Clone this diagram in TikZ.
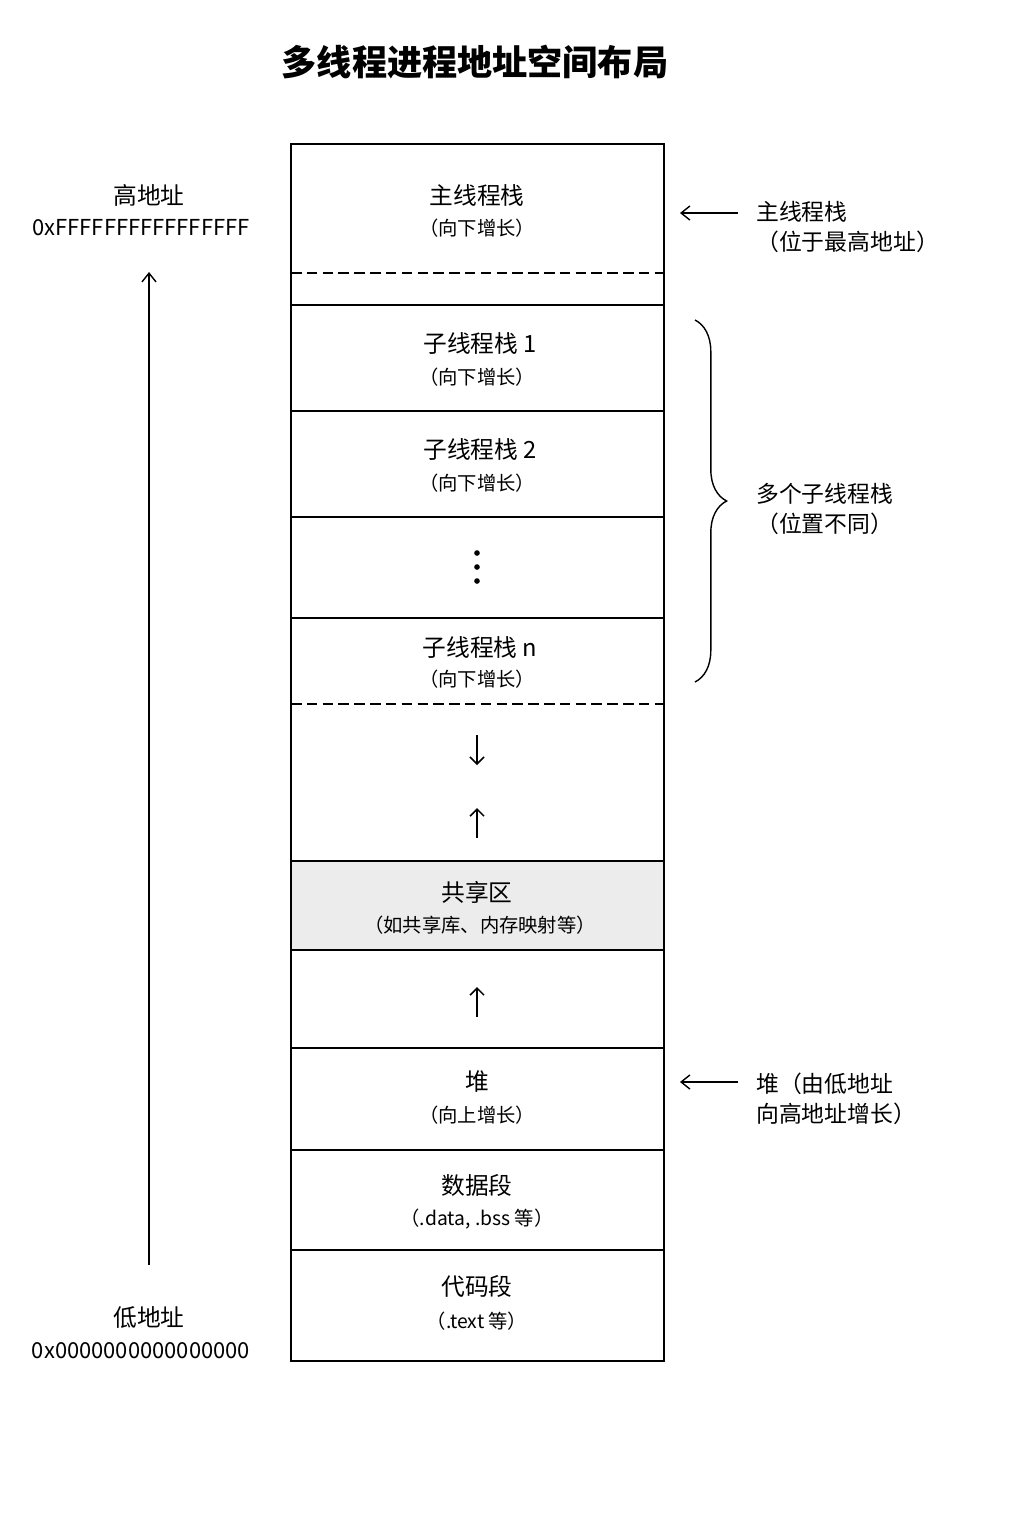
\documentclass[tikz,border=0pt]{standalone}
\usepackage{fontspec}
\setmainfont{Noto Sans CJK SC}
\usetikzlibrary{arrows.meta,positioning,decorations.pathreplacing}
\definecolor{shared}{RGB}{236,236,236}
\tikzset{
    seg/.style = {draw, line width=0.8pt},
    main/.style = {font=\fontsize{13.5}{16}\selectfont},
    sub/.style = {font=\fontsize{11}{14}\selectfont},
    side/.style = {font=\fontsize{13}{17}\selectfont, align=left, anchor=west},
    larr/.style = {-{Straight Barb[length=5pt,width=8pt]}, line width=0.8pt},
    growth/.style = {-{Straight Barb[length=4pt,width=8pt]}, line width=0.9pt}
}
\begin{document}
\begin{tikzpicture}[x=0.02cm, y=-0.02cm]
\useasboundingbox (0,0) rectangle (1024,1536);

% title
\node[font=\fontsize{20}{24}\selectfont\bfseries] (title) at (475,62) {多线程进程地址空间布局};

% segments
\fill[shared] (291,861) rectangle (664,950);
\draw[seg] (291,144) rectangle (664,1361);
\foreach \y in {305,411,517,618,861,950,1048,1150,1250}
    \draw[seg] (291,\y) -- (664,\y);
\foreach \y in {273,704}
    \draw[seg, dashed, dash pattern=on 6pt off 3pt] (291,\y) -- (664,\y);

% texts in segments
\node[main] (mstack) at (477,195) {主线程栈};
\node[sub] at (477,228) {（向下增长）};
\node[main] (s1) at (480,343) {子线程栈 1};
\node[sub] at (477,377) {（向下增长）};
\node[main] (s2) at (480,449) {子线程栈 2};
\node[sub] at (477,483) {（向下增长）};
\foreach \y in {553,567,581}
    \fill (477,\y) circle (1.6pt);
\node[main] (sn) at (480,647) {子线程栈 n};
\node[sub] at (477,679) {（向下增长）};
\node[main] (shm) at (477,892) {共享区};
\node[sub] at (480,925) {（如共享库、内存映射等）};
\node[main] (heap) at (477,1082) {堆};
\node[sub] at (477,1115) {（向上增长）};
\node[main] (data) at (477,1185) {数据段};
\node[sub] at (477,1219) {（.data, .bss 等）};
\node[main] (text) at (477,1286) {代码段};
\node[sub] at (477,1321) {（.text 等）};

% growth arrows
\draw[growth] (477,735) -- (477,765);
\draw[growth] (477,838) -- (477,808);
\draw[growth] (477,1017) -- (477,987);

% address axis
\node[main] (hi) at (149,195) {高地址};
\node[sub, font=\fontsize{12.5}{15}\selectfont] (hiaddr) at (141,228) {0xFFFFFFFFFFFFFFFF};
\node[main] (lo) at (149,1318) {低地址};
\node[sub, font=\fontsize{12.5}{15}\selectfont] (loaddr) at (141,1351) {0x0000000000000000};
\coordinate (axlo) at (149,1265);
\coordinate (axhi) at (149,272);
\draw[larr] (axlo) -- (axhi);

% right side notes
\node[side] (mnote) at (750,227) {主线程栈\\（位于最高地址）};
\coordinate (ma) at (680,213);
\coordinate (mb) at (738,213);
\draw[larr] (mb) -- (ma);
\draw[decorate, decoration={brace, amplitude=18pt}, line width=0.8pt] (695,320) -- (695,682);
\node[side] (snote) at (750,509) {多个子线程栈\\（位置不同）};
\node[side] (hnote) at (750,1099) {堆（由低地址\\向高地址增长）};
\coordinate (ha) at (680,1082);
\coordinate (hb) at (738,1082);
\draw[larr] (hb) -- (ha);
\end{tikzpicture}
\end{document}
